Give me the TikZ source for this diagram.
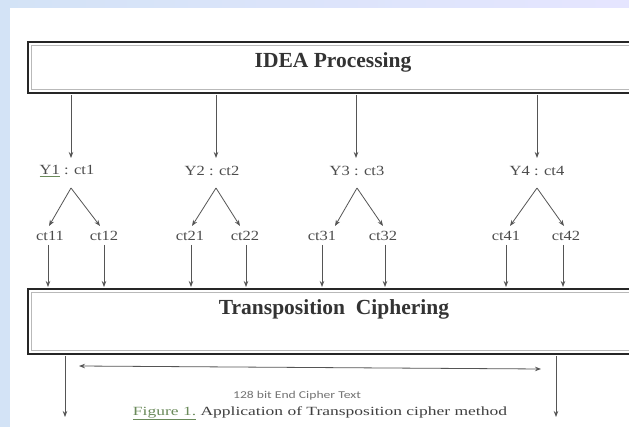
\documentclass[tikz,border=0pt]{standalone}
\usepackage{fontspec}
\setmainfont{Liberation Serif}
\newfontfamily\calib{Carlito}
\usetikzlibrary{arrows.meta}
\definecolor{bgblue}{HTML}{D3E3F6}
\definecolor{ln}{HTML}{555555}
\definecolor{cap}{HTML}{6A8A5A}
\tikzset{
  outerln/.style={draw=black!85, line width=2.8pt},
  innerln/.style={draw=gray!55, line width=1.6pt},
  arr/.style={draw=ln, line width=0.8pt, -{Stealth[length=6pt,width=4.5pt]}},
  lbl/.style={font=\fontsize{14}{14}\selectfont, text=black!70, inner sep=1pt, xscale=1.18},
  ttl/.style={font=\fontsize{21.5}{21.5}\selectfont\bfseries, text=black!80},
}
\begin{document}
\begin{tikzpicture}[x=1pt,y=-1pt]
\useasboundingbox (0,0) rectangle (629,427);
\fill[bgblue] (0,0) rectangle (629,427);
\shade[left color=bgblue, right color=blue!10] (0,0) rectangle (629,8);
\fill[white] (10,8) rectangle (629,427);
% boxes
\fill[white] (28,42) rectangle (640,93);
\draw[outerln] (28,42) rectangle (640,93);
\draw[innerln] (31.5,45.5) rectangle (640,89.5);
\node[ttl] (idea) at (333,62) {IDEA Processing};
\fill[white] (28,289) rectangle (640,354);
\draw[outerln] (28,289) rectangle (640,354);
\draw[innerln] (31.5,292.5) rectangle (640,350.5);
\node[ttl] (trans) at (334,309) {Transposition\ \ Ciphering};
% coordinates on boxes
\coordinate (t1) at (71,95); \coordinate (t2) at (216,95);
\coordinate (t3) at (356,95); \coordinate (t4) at (537,95);
% Y labels
\node[lbl] (y1) at (67,171) {{\color{cap}\underline{\textcolor{black!70}{Y1}}} : ct1};
\node[lbl] (y2) at (212,171) {Y2 : ct2};
\node[lbl] (y3) at (357,171) {Y3 : ct3};
\node[lbl] (y4) at (537,171) {Y4 : ct4};
\coordinate (y1a) at (71,158); \coordinate (y2a) at (216,158);
\coordinate (y3a) at (356,158); \coordinate (y4a) at (537,158);
\foreach \i in {1,2,3,4} \draw[arr] (t\i) -- (y\i a);
% branch points
\coordinate (b1) at (71,188); \coordinate (b2) at (216,188);
\coordinate (b3) at (357,188); \coordinate (b4) at (537,188);
% ct labels
\node[lbl] (c11) at (50,236) {ct11};
\node[lbl] (c12) at (104,236) {ct12};
\node[lbl] (c21) at (190,236) {ct21};
\node[lbl] (c22) at (245,236) {ct22};
\node[lbl] (c31) at (322,236) {ct31};
\node[lbl] (c32) at (383,236) {ct32};
\node[lbl] (c41) at (506,236) {ct41};
\node[lbl] (c42) at (566,236) {ct42};
% branch arrows
\draw[arr] (b1) -- (49,226); \draw[arr] (b1) -- (100,226);
\draw[arr] (b2) -- (192,226); \draw[arr] (b2) -- (240,226);
\draw[arr] (b3) -- (335,226); \draw[arr] (b3) -- (383,226);
\draw[arr] (b4) -- (510,226); \draw[arr] (b4) -- (564,226);
% down arrows to transposition box
\foreach \n/\x in {c11/48,c12/104,c21/191,c22/246,c31/322,c32/385,c41/506,c42/563}
  \draw[arr] (\x,245) -- (\x,287);
% output arrows
\coordinate (o1) at (65,356); \coordinate (o2) at (556,356);
\coordinate (e1) at (65,417); \coordinate (e2) at (556,417);
\draw[arr] (o1) -- (e1);
\draw[arr] (o2) -- (e2);
\coordinate (h1) at (79,366); \coordinate (h2) at (541,369);
\draw[draw=ln, line width=0.8pt, {Stealth[length=6pt,width=4.5pt]}-{Stealth[length=6pt,width=4.5pt]}] (h1) -- (h2);
\node[font=\calib\fontsize{10.5}{10.5}\selectfont, text=black!55, xscale=1.3] (ctext) at (297,396) {128 bit End Cipher Text};
\node[font=\fontsize{12.5}{12.5}\selectfont, text=black!75, xscale=1.4] (capt) at (320,413) {\textcolor{cap}{\underline{Figure 1.}} Application of Transposition cipher method};
\end{tikzpicture}
\end{document}
